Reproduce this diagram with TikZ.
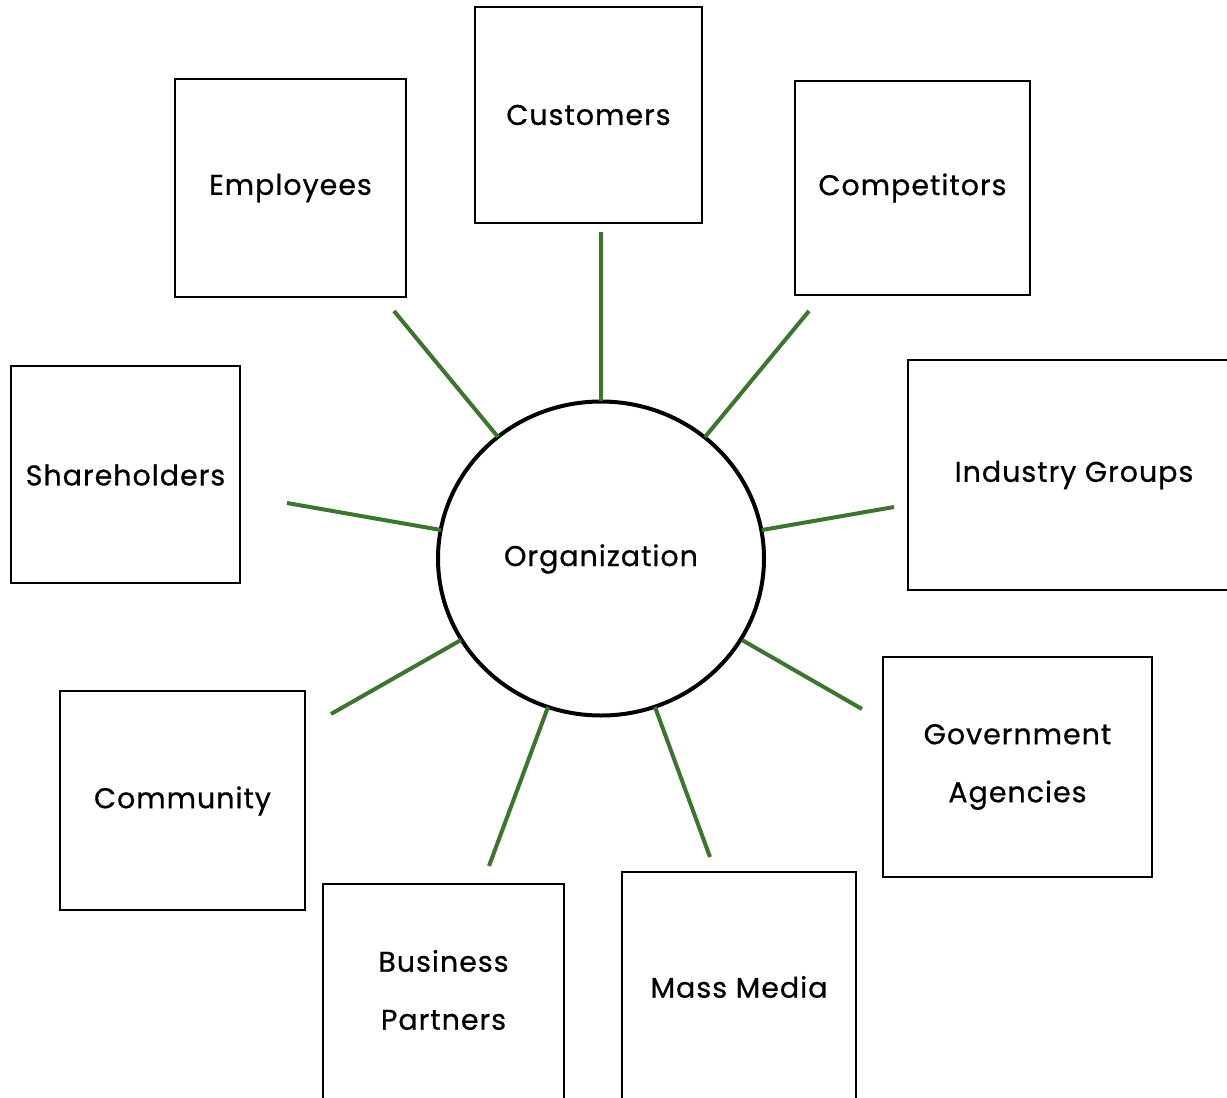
\documentclass[tikz,border=0pt]{standalone}
\usepackage{fontspec}
\setmainfont{Poppins}[FakeBold=0.7,LetterSpace=3.5]
\usetikzlibrary{shapes.geometric}
\definecolor{linkgreen}{RGB}{58,118,44}
\tikzset{
  txt/.style={font=\fontsize{28.5}{58}\selectfont, align=center},
  stake/.style={draw=black, line width=2pt, fill=white, inner sep=0pt, txt},
  orgnode/.style={draw=black, line width=4pt, ellipse, minimum width=326pt, minimum height=314pt, inner sep=0pt, txt},
  link/.style={draw=linkgreen, line width=4pt}
}
\begin{document}
\begin{tikzpicture}[x=1pt,y=-1pt]
\useasboundingbox (0,0) rectangle (1227,1098);
% boxes
\node[stake, minimum width=227pt, minimum height=216pt] (cust) at (588.5,115) {};
\node[txt] (custt) at (588.5,115) {Customers};
\node[stake, minimum width=231pt, minimum height=218pt] (empl) at (290.5,188) {};
\node[txt] (emplt) at (290.5,188) {Employees};
\node[stake, minimum width=235pt, minimum height=214pt] (comp) at (912.5,188) {};
\node[txt] (compt) at (912.5,188) {Competitors};
\node[stake, minimum width=229pt, minimum height=217pt] (share) at (125.5,474.5) {};
\node[txt] (sharet) at (125.5,475) {Shareholders};
\node[stake, minimum width=330pt, minimum height=230pt] (indu) at (1073,475) {};
\node[txt] (indut) at (1074,475) {Industry Groups};
\node[stake, minimum width=245pt, minimum height=219pt] (comm) at (182.5,800.5) {};
\node[txt] (commt) at (182.5,801) {Community};
\node[stake, minimum width=269pt, minimum height=220pt] (gov) at (1017.5,767) {};
\node[txt] (govt) at (1017.5,767) {Government\\Agencies};
\node[stake, minimum width=241pt, minimum height=230pt] (bus) at (443.5,999) {};
\node[txt] (bust) at (443.5,990) {Business\\Partners};
\node[stake, minimum width=234pt, minimum height=240pt] (mass) at (739,992) {};
\node[txt] (masst) at (739,987) {Mass Media};
% center
\node[orgnode] (org) at (601,558.5) {};
\node[txt] (orgt) at (601,559) {Organization};
% free ends of connectors
\coordinate (cCust) at (601,232);
\coordinate (cEmpl) at (394,311);
\coordinate (cComp) at (809,311);
\coordinate (cShare) at (287,503);
\coordinate (cIndu) at (894,507);
\coordinate (cComm) at (331,714);
\coordinate (cGov) at (862,709);
\coordinate (cBus) at (489,866);
\coordinate (cMass) at (710,857);
% connectors
\draw[link] (cCust) -- (601,401);
\draw[link] (cEmpl) -- (498,437);
\draw[link] (cComp) -- (705,437);
\draw[link] (cShare) -- (441,530);
\draw[link] (cIndu) -- (762,530);
\draw[link] (cComm) -- (461,640);
\draw[link] (cGov) -- (742,640);
\draw[link] (cBus) -- (548,707);
\draw[link] (cMass) -- (655,707);
\end{tikzpicture}
\end{document}
